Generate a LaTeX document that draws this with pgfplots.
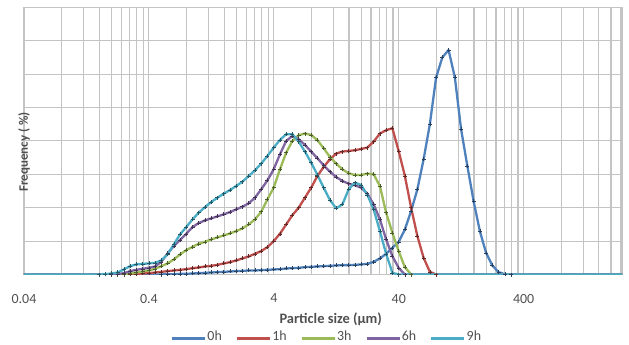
\documentclass[border=0pt]{standalone}
\usepackage{pgfplots}
\pgfplotsset{compat=1.18}
\usepackage{fontspec}
\setmainfont{Carlito}
\definecolor{c0}{HTML}{4F81BD}
\definecolor{c1}{HTML}{C0504D}
\definecolor{c2}{HTML}{9BBB59}
\definecolor{c3}{HTML}{8064A2}
\definecolor{c4}{HTML}{4BACC6}
\definecolor{gridc}{HTML}{C4C4C4}
\definecolor{txt}{HTML}{505050}
\begin{document}
\begin{tikzpicture}
\useasboundingbox (-24bp,-70.5bp) rectangle (605bp,274.5bp);
\begin{axis}[
  at={(0,0)}, anchor=south west,
  scale only axis, width=598bp, height=267.2bp,
  xmode=log, xmin=0.04, xmax=2450, ymin=0, ymax=8,
  xtick={0.04,0.4,4,40,400},
  xticklabels={0.04,0.4,4,40,400},
  minor xtick={0.08,0.12,0.16,0.2,0.24,0.28,0.32,0.36,0.8,1.2,1.6,2,2.4,2.8,3.2,3.6,8,12,16,20,24,28,32,36,80,120,160,200,240,280,320,360,800,1200,1600,2000,2400},
  ytick={0,1,2,3,4,5,6,7,8}, yticklabels={},
  xmajorgrids, xminorgrids, ymajorgrids,
  major grid style={gridc, line width=1.1bp},
  minor grid style={gridc, line width=1.1bp},
  axis line style={gridc, line width=1.1bp},
  major tick length=0pt, minor tick length=0pt,
  /pgf/number format/assume math mode=true,
  tick label style={font=\fontsize{14}{16}\selectfont, text=txt},
  xticklabel style={yshift=-16bp},
  xlabel={Particle size (µm)},
  xlabel style={at={(axis description cs:0.513,0)}, anchor=center, yshift=-45bp, font=\bfseries\fontsize{14.5}{17}\selectfont, text=txt},
  ylabel={Frequency ( \%)},
  ylabel style={at={(axis description cs:0,0.52)}, anchor=center, xshift=-16.5bp, font=\bfseries\fontsize{13}{15}\selectfont, text=txt},
  legend columns=-1,
  legend image code/.code={\draw[#1, mark=none, line width=2.4bp] (0bp,-2bp) -- (33bp,-2bp);},
  legend style={at={(axis description cs:0.506,0)}, anchor=center, yshift=-62bp, draw=none, fill=none,
    font=\fontsize{14}{16}\selectfont, text=txt, nodes={inner sep=1bp},
    /tikz/every even column/.append style={column sep=13bp}},
  every axis plot/.append style={line width=2.3bp, line join=round, mark=+, mark size=2bp},
]
\addplot[color=c0, mark options={draw=c0!50!black, line width=0.5bp}] coordinates {
(0.03,0) (0.5024,0) (0.5637,0.01) (0.6325,0.01) (0.7096,0.02) (0.7962,0.02) (0.8934,0.03) (1.002,0.04) (1.125,0.05) (1.262,0.06) (1.416,0.07) (1.589,0.08) (1.783,0.09) (2.000,0.10) (2.244,0.11) (2.518,0.12) (2.825,0.12) (3.170,0.13) (3.557,0.14) (3.991,0.15) (4.477,0.16) (5.024,0.18) (5.637,0.19) (6.325,0.20) (7.096,0.22) (7.962,0.23) (8.934,0.24) (10.02,0.25) (11.25,0.26) (12.62,0.27) (14.16,0.28) (15.89,0.28) (17.83,0.29) (20.00,0.30) (22.44,0.32) (25.18,0.38) (28.25,0.48) (31.70,0.62) (35.57,0.80) (39.91,0.97) (44.77,1.35) (50.24,1.90) (56.37,2.55) (63.25,3.45) (70.96,4.50) (79.62,5.90) (89.34,6.50) (100.2,6.72) (112.5,5.90) (126.2,4.35) (141.6,3.25) (158.9,2.20) (178.3,1.30) (200.0,0.65) (224.4,0.27) (251.8,0.07) (282.5,0.01) (317.0,0) (3000,0)
};
\addlegendentry{0h}
\addplot[color=c1, mark options={draw=c1!50!black, line width=0.5bp}] coordinates {
(0.03,0) (0.2518,0) (0.2825,0.01) (0.3170,0.02) (0.3557,0.03) (0.3991,0.04) (0.4477,0.06) (0.5024,0.08) (0.5637,0.10) (0.6325,0.12) (0.7096,0.14) (0.7962,0.16) (0.8934,0.19) (1.002,0.21) (1.125,0.24) (1.262,0.26) (1.416,0.29) (1.589,0.33) (1.783,0.37) (2.000,0.42) (2.244,0.48) (2.518,0.54) (2.825,0.62) (3.170,0.70) (3.557,0.82) (3.991,1.00) (4.477,1.22) (5.024,1.50) (5.637,1.78) (6.325,2.00) (7.096,2.30) (7.962,2.60) (8.934,2.95) (10.02,3.22) (11.25,3.45) (12.62,3.62) (14.16,3.68) (15.89,3.70) (17.83,3.72) (20.00,3.76) (22.44,3.80) (25.18,3.98) (28.25,4.22) (31.70,4.32) (35.57,4.38) (39.91,3.70) (44.77,2.95) (50.24,2.00) (56.37,1.15) (63.25,0.50) (70.96,0.08) (79.62,0) (3000,0)
};
\addlegendentry{1h}
\addplot[color=c2, mark options={draw=c2!50!black, line width=0.5bp}] coordinates {
(0.03,0) (0.2244,0) (0.2518,0.01) (0.2825,0.03) (0.3170,0.06) (0.3557,0.09) (0.3991,0.12) (0.4477,0.17) (0.5024,0.25) (0.5637,0.33) (0.6325,0.45) (0.7096,0.60) (0.7962,0.73) (0.8934,0.83) (1.002,0.92) (1.125,0.98) (1.262,1.05) (1.416,1.11) (1.589,1.17) (1.783,1.23) (2.000,1.30) (2.244,1.38) (2.518,1.50) (2.825,1.65) (3.170,1.88) (3.557,2.25) (3.991,2.60) (4.477,3.15) (5.024,3.65) (5.637,4.00) (6.325,4.17) (7.096,4.22) (7.962,4.18) (8.934,4.02) (10.02,3.78) (11.25,3.52) (12.62,3.32) (14.16,3.15) (15.89,3.03) (17.83,2.98) (20.00,2.98) (22.44,3.02) (25.18,3.00) (28.25,2.65) (31.70,1.85) (35.57,1.25) (39.91,0.70) (44.77,0.22) (50.24,0) (3000,0)
};
\addlegendentry{3h}
\addplot[color=c3, mark options={draw=c3!50!black, line width=0.5bp}] coordinates {
(0.03,0) (0.2000,0) (0.2244,0.01) (0.2518,0.04) (0.2825,0.10) (0.3170,0.14) (0.3557,0.17) (0.3991,0.20) (0.4477,0.24) (0.5024,0.38) (0.5637,0.63) (0.6325,0.85) (0.7096,1.03) (0.7962,1.22) (0.8934,1.42) (1.002,1.54) (1.125,1.62) (1.262,1.68) (1.416,1.74) (1.589,1.80) (1.783,1.87) (2.000,1.95) (2.244,2.03) (2.518,2.13) (2.825,2.30) (3.170,2.55) (3.557,2.82) (3.991,3.15) (4.477,3.60) (5.024,4.00) (5.637,4.15) (6.325,4.05) (7.096,3.88) (7.962,3.68) (8.934,3.48) (10.02,3.27) (11.25,3.08) (12.62,2.92) (14.16,2.80) (15.89,2.72) (17.83,2.67) (20.00,2.60) (22.44,2.42) (25.18,2.10) (28.25,1.65) (31.70,1.05) (35.57,0.55) (39.91,0.20) (44.77,0) (3000,0)
};
\addlegendentry{6h}
\addplot[color=c4, mark options={draw=c4!50!black, line width=0.5bp}] coordinates {
(0.03,0) (0.1589,0) (0.1783,0.01) (0.2000,0.03) (0.2244,0.06) (0.2518,0.15) (0.2825,0.25) (0.3170,0.30) (0.3557,0.32) (0.3991,0.33) (0.4477,0.35) (0.5024,0.42) (0.5637,0.60) (0.6325,0.90) (0.7096,1.20) (0.7962,1.42) (0.8934,1.65) (1.002,1.85) (1.125,2.02) (1.262,2.17) (1.416,2.30) (1.589,2.42) (1.783,2.53) (2.000,2.65) (2.244,2.78) (2.518,2.95) (2.825,3.12) (3.170,3.32) (3.557,3.55) (3.991,3.80) (4.477,4.03) (5.024,4.20) (5.637,4.20) (6.325,3.98) (7.096,3.68) (7.962,3.35) (8.934,2.98) (10.02,2.60) (11.25,2.23) (12.62,1.98) (14.16,2.10) (15.89,2.55) (17.83,2.75) (20.00,2.68) (22.44,2.38) (25.18,1.95) (28.25,1.30) (31.70,0.62) (35.57,0.05) (39.91,0) (3000,0)
};
\addlegendentry{9h}
\end{axis}
\end{tikzpicture}
\end{document}
